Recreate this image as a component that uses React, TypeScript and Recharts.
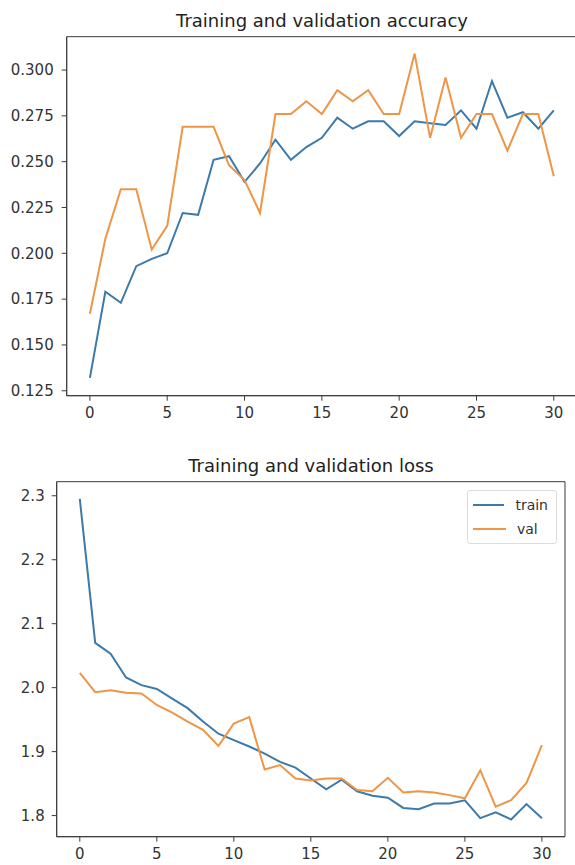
import React from "react";
import {
  LineChart,
  Line,
  XAxis,
  YAxis,
  ReferenceArea,
  Legend,
} from "recharts";

const epochs = Array.from({ length: 31 }, (_, i) => i);

const trainAcc = [
  0.132, 0.179, 0.173, 0.193, 0.197, 0.2, 0.222, 0.221, 0.251, 0.253, 0.239,
  0.249, 0.262, 0.251, 0.258, 0.263, 0.274, 0.268, 0.272, 0.272, 0.264, 0.272,
  0.271, 0.27, 0.278, 0.268, 0.294, 0.274, 0.277, 0.268, 0.278,
];
const valAcc = [
  0.167, 0.208, 0.235, 0.235, 0.202, 0.215, 0.269, 0.269, 0.269, 0.248, 0.24,
  0.222, 0.276, 0.276, 0.283, 0.276, 0.289, 0.283, 0.289, 0.276, 0.276, 0.309,
  0.263, 0.296, 0.263, 0.276, 0.276, 0.256, 0.276, 0.276, 0.242,
];
const trainLoss = [
  2.295, 2.07, 2.053, 2.016, 2.004, 1.998, 1.983, 1.968, 1.947, 1.928, 1.918,
  1.908, 1.897, 1.884, 1.875, 1.858, 1.841, 1.856, 1.838, 1.831, 1.828, 1.812,
  1.81, 1.819, 1.819, 1.824, 1.796, 1.805, 1.794, 1.818, 1.796,
];
const valLoss = [
  2.023, 1.993, 1.996, 1.992, 1.991, 1.973, 1.961, 1.947, 1.934, 1.909, 1.944,
  1.954, 1.872, 1.879, 1.858, 1.855, 1.858, 1.858, 1.84, 1.838, 1.859, 1.836,
  1.838, 1.836, 1.832, 1.827, 1.871, 1.814, 1.824, 1.851, 1.91,
];

const xTicks = [0, 5, 10, 15, 20, 25, 30];
const accTicks = [0.125, 0.15, 0.175, 0.2, 0.225, 0.25, 0.275, 0.3];
const lossTicks = [1.8, 1.9, 2.0, 2.1, 2.2, 2.3];

const accData = epochs.map((e, i) => ({ epoch: e, train: trainAcc[i], val: valAcc[i] }));
const lossData = epochs.map((e, i) => ({ epoch: e, train: trainLoss[i], val: valLoss[i] }));

const BLUE = "#3b7aaa";
const ORANGE = "#ee9546";
const AXIS = "#3a3a3a";
const FONT = "'DejaVu Sans', sans-serif";
const tickStyle = { fill: "#333", fontSize: 15, fontFamily: FONT };

function LegendBox() {
  const items = [
    { name: "train", color: BLUE },
    { name: "val", color: ORANGE },
  ];
  return (
    <div
      style={{
        border: "1px solid #ddd",
        borderRadius: 3,
        background: "#fff",
        padding: "2px 8px 2px 5px",
        fontFamily: FONT,
        fontSize: 14,
        color: "#333",
      }}
    >
      {items.map((it) => (
        <div key={it.name} style={{ display: "flex", alignItems: "center", height: 24 }}>
          <span style={{ width: 33, height: 2, background: it.color, marginRight: 11 }} />
          {it.name}
        </div>
      ))}
    </div>
  );
}

function Title({ text, top, center }: { text: string; top: number; center: number }) {
  return (
    <div
      style={{
        position: "absolute",
        top,
        left: center - 200,
        width: 400,
        textAlign: "center",
        fontFamily: FONT,
        fontSize: 18,
        lineHeight: "18px",
        color: "#222",
      }}
    >
      {text}
    </div>
  );
}

export default function App() {
  const accDomain: [number, number] = [0.1223, 0.3182];
  const lossDomain: [number, number] = [1.767, 2.322];
  return (
    <div
      style={{
        position: "absolute",
        left: 0,
        top: 0,
        width: 575,
        height: 865,
        overflow: "hidden",
        background: "#fff",
      }}
    >
      <Title text="Training and validation accuracy" top={12} center={322} />
      <div style={{ position: "absolute", left: 0, top: 0 }}>
        <LineChart
          width={590}
          height={425}
          data={accData}
          margin={{ top: 36.7, right: 13, bottom: 0, left: 0 }}
        >
          <XAxis
            dataKey="epoch"
            type="number"
            domain={[-1.5, 31.5]}
            ticks={xTicks}
            height={29.3}
            tick={tickStyle}
            tickSize={5}
            tickMargin={7}
            stroke={AXIS}
          />
          <YAxis
            type="number"
            domain={accDomain}
            ticks={accTicks}
            width={66.7}
            tick={tickStyle}
            tickSize={5}
            tickMargin={8}
            tickFormatter={(v: number) => v.toFixed(3)}
            stroke={AXIS}
            allowDataOverflow
          />
          <ReferenceArea
            x1={-1.5}
            x2={31.5}
            y1={accDomain[0]}
            y2={accDomain[1]}
            fill="none"
            stroke={AXIS}
            strokeWidth={1}
          />
          <Line dataKey="train" stroke={BLUE} strokeWidth={2} dot={false} isAnimationActive={false} />
          <Line dataKey="val" stroke={ORANGE} strokeWidth={2} dot={false} isAnimationActive={false} />
        </LineChart>
      </div>

      <Title text="Training and validation loss" top={457} center={311} />
      <div style={{ position: "absolute", left: 0, top: 440 }}>
        <LineChart
          width={575}
          height={425}
          data={lossData}
          margin={{ top: 41.7, right: 10, bottom: 0, left: 0 }}
        >
          <XAxis
            dataKey="epoch"
            type="number"
            domain={[-1.5, 31.5]}
            ticks={xTicks}
            height={28.3}
            tick={tickStyle}
            tickSize={5}
            tickMargin={7}
            stroke={AXIS}
          />
          <YAxis
            type="number"
            domain={lossDomain}
            ticks={lossTicks}
            width={56.7}
            tick={tickStyle}
            tickSize={5}
            tickMargin={7}
            tickFormatter={(v: number) => v.toFixed(1)}
            stroke={AXIS}
            allowDataOverflow
          />
          <ReferenceArea
            x1={-1.5}
            x2={31.5}
            y1={lossDomain[0]}
            y2={lossDomain[1]}
            fill="none"
            stroke={AXIS}
            strokeWidth={1}
          />
          <Legend
            layout="vertical"
            align="center"
            verticalAlign="middle"
            content={() => <LegendBox />}
            wrapperStyle={{ top: 50, left: 467, width: 90 }}
          />
          <Line dataKey="train" stroke={BLUE} strokeWidth={2} dot={false} isAnimationActive={false} />
          <Line dataKey="val" stroke={ORANGE} strokeWidth={2} dot={false} isAnimationActive={false} />
        </LineChart>
      </div>
    </div>
  );
}
